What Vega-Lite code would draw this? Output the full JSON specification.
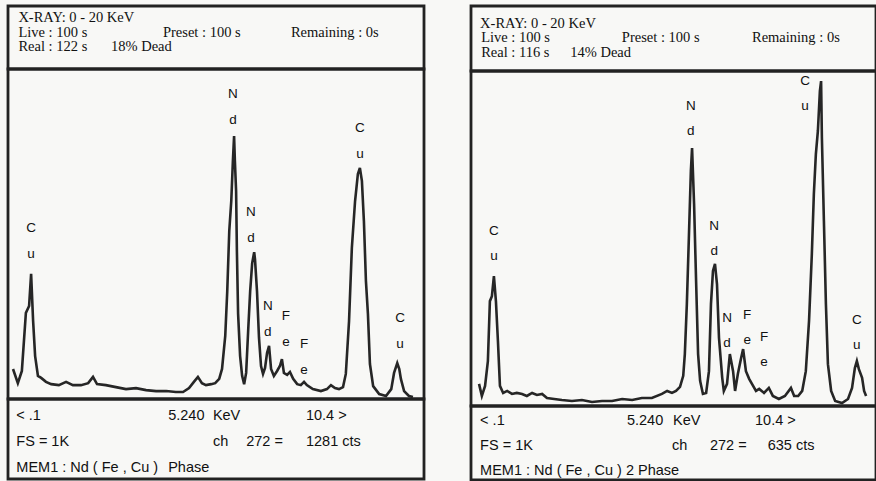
{
  "$schema": "https://vega.github.io/schema/vega-lite/v6.json",
  "background": "#f8f8f6",
  "padding": {"left": 6, "top": 4, "right": 0, "bottom": 0},
  "config": {"view": {"stroke": "#222222", "strokeWidth": 2.8, "fill": null}},
  "spacing": 43,
  "hconcat": [
    {
      "spacing": 0,
      "bounds": "flush",
      "vconcat": [
        {
          "width": 416, "height": 63,
          "data": {"name": "leftHead"},
          "mark": {"type": "text", "align": "left", "baseline": "middle", "font": "Liberation Serif", "fontSize": 14.5, "color": "#111111"},
          "encoding": {
            "x": {"field": "col", "type": "quantitative", "scale": {"domain": [0, 40], "nice": false, "zero": false}, "axis": null},
            "y": {"field": "line", "type": "quantitative", "scale": {"domain": [0.17, 4.52], "reverse": true, "nice": false, "zero": false}, "axis": null},
            "text": {"field": "text"}
          }
        },
        {
          "width": 416, "height": 330,
          "layer": [
            {
              "data": {"name": "leftSpec"},
              "mark": {"type": "line", "color": "#262626", "strokeWidth": 2.6, "clip": true},
              "encoding": {
                "x": {"field": "e", "type": "quantitative", "scale": {"domain": [0.075, 10.425], "nice": false, "zero": false}, "axis": null},
                "y": {"field": "c", "type": "quantitative", "scale": {"domain": [0, 1000], "nice": false}, "axis": null}
              }
            },
            {
              "data": {"name": "leftLab"},
              "mark": {"type": "text", "font": "Liberation Sans", "fontSize": 13.5, "lineBreak": "\n", "lineHeight": 26, "baseline": "middle", "align": "center", "dy": -13, "color": "#111111"},
              "encoding": {
                "x": {"field": "e", "type": "quantitative", "scale": {"domain": [0.075, 10.425], "nice": false, "zero": false}, "axis": null},
                "y": {"field": "c", "type": "quantitative", "scale": {"domain": [0, 1000], "nice": false}, "axis": null},
                "text": {"field": "t"}
              }
            }
          ]
        },
        {
          "width": 416, "height": 80,
          "data": {"name": "leftFoot"},
          "mark": {"type": "text", "align": "left", "baseline": "middle", "font": "Liberation Sans", "fontSize": 14.5, "color": "#111111"},
          "encoding": {
            "x": {"field": "col", "type": "quantitative", "scale": {"domain": [0, 40], "nice": false, "zero": false}, "axis": null},
            "y": {"field": "line", "type": "quantitative", "scale": {"domain": [0.346, 3.423], "reverse": true, "nice": false, "zero": false}, "axis": null},
            "text": {"field": "text"}
          }
        }
      ]
    },
    {
      "spacing": 0,
      "bounds": "flush",
      "vconcat": [
        {
          "width": 405, "height": 65,
          "data": {"name": "rightHead"},
          "mark": {"type": "text", "align": "left", "baseline": "middle", "font": "Liberation Serif", "fontSize": 14.5, "color": "#111111"},
          "encoding": {
            "x": {"field": "col", "type": "quantitative", "scale": {"domain": [0, 40], "nice": false, "zero": false}, "axis": null},
            "y": {"field": "line", "type": "quantitative", "scale": {"domain": [-0.241, 4.242], "reverse": true, "nice": false, "zero": false}, "axis": null},
            "text": {"field": "text"}
          }
        },
        {
          "width": 405, "height": 335,
          "layer": [
            {
              "data": {"name": "rightSpec"},
              "mark": {"type": "line", "color": "#262626", "strokeWidth": 2.6, "clip": true},
              "encoding": {
                "x": {"field": "e", "type": "quantitative", "scale": {"domain": [0.1, 10.176], "nice": false, "zero": false}, "axis": null},
                "y": {"field": "c", "type": "quantitative", "scale": {"domain": [0, 1000], "nice": false}, "axis": null}
              }
            },
            {
              "data": {"name": "rightLab"},
              "mark": {"type": "text", "font": "Liberation Sans", "fontSize": 13.5, "lineBreak": "\n", "lineHeight": 25, "baseline": "middle", "align": "center", "dy": -12.5, "color": "#111111"},
              "encoding": {
                "x": {"field": "e", "type": "quantitative", "scale": {"domain": [0.1, 10.176], "nice": false, "zero": false}, "axis": null},
                "y": {"field": "c", "type": "quantitative", "scale": {"domain": [0, 1000], "nice": false}, "axis": null},
                "text": {"field": "t"}
              }
            }
          ]
        },
        {
          "width": 405, "height": 74,
          "data": {"name": "rightFoot"},
          "mark": {"type": "text", "align": "left", "baseline": "middle", "font": "Liberation Sans", "fontSize": 14.5, "color": "#111111"},
          "encoding": {
            "x": {"field": "col", "type": "quantitative", "scale": {"domain": [0, 40], "nice": false, "zero": false}, "axis": null},
            "y": {"field": "line", "type": "quantitative", "scale": {"domain": [0.4, 3.36], "reverse": true, "nice": false, "zero": false}, "axis": null},
            "text": {"field": "text"}
          }
        }
      ]
    }
  ],
  "datasets": {
    "leftHead": [
      {"line": 1, "col": 1, "text": "X-RAY: 0 - 20 KeV"},
      {"line": 2, "col": 1, "text": "Live : 100 s"},
      {"line": 2, "col": 14.9, "text": "Preset : 100 s"},
      {"line": 2, "col": 27.2, "text": "Remaining : 0s"},
      {"line": 3, "col": 1, "text": "Real : 122 s"},
      {"line": 3, "col": 9.9, "text": "18% Dead"}
    ],
    "rightHead": [
      {"line": 1, "col": 0.9, "text": "X-RAY: 0 - 20 KeV"},
      {"line": 2, "col": 1, "text": "Live : 100 s"},
      {"line": 2, "col": 14.9, "text": "Preset : 100 s"},
      {"line": 2, "col": 27.75, "text": "Remaining : 0s"},
      {"line": 3, "col": 1, "text": "Real : 116 s"},
      {"line": 3, "col": 9.8, "text": "14% Dead"}
    ],
    "leftFoot": [
      {"line": 1, "col": 0.8, "text": "< .1"},
      {"line": 1, "col": 15.4, "text": "5.240"},
      {"line": 1, "col": 19.7, "text": "KeV"},
      {"line": 1, "col": 28.65, "text": "10.4 >"},
      {"line": 2, "col": 0.8, "text": "FS = 1K"},
      {"line": 2, "col": 19.7, "text": "ch"},
      {"line": 2, "col": 22.9, "text": "272 ="},
      {"line": 2, "col": 28.65, "text": "1281 cts"},
      {"line": 3, "col": 0.8, "text": "MEM1 : Nd ( Fe , Cu )"},
      {"line": 3, "col": 15.4, "text": "Phase"}
    ],
    "rightFoot": [
      {"line": 1, "col": 0.9, "text": "< .1"},
      {"line": 1, "col": 15.4, "text": "5.240"},
      {"line": 1, "col": 19.95, "text": "KeV"},
      {"line": 1, "col": 28.05, "text": "10.4 >"},
      {"line": 2, "col": 0.9, "text": "FS = 1K"},
      {"line": 2, "col": 19.85, "text": "ch"},
      {"line": 2, "col": 23.6, "text": "272 ="},
      {"line": 2, "col": 29.3, "text": "635 cts"},
      {"line": 3, "col": 0.9, "text": "MEM1 : Nd ( Fe , Cu ) 2 Phase"}
    ],
    "leftLab": [
      {"e": 0.65, "c": 479, "t": "C\nu"},
      {"e": 5.67, "c": 885, "t": "N\nd"},
      {"e": 6.12, "c": 527, "t": "N\nd"},
      {"e": 6.54, "c": 242, "t": "N\nd"},
      {"e": 6.99, "c": 212, "t": "F\ne"},
      {"e": 7.44, "c": 127, "t": "F\ne"},
      {"e": 8.83, "c": 782, "t": "C\nu"},
      {"e": 9.83, "c": 206, "t": "C\nu"}
    ],
    "rightLab": [
      {"e": 0.67, "c": 484, "t": "C\nu"},
      {"e": 5.57, "c": 857, "t": "N\nd"},
      {"e": 8.41, "c": 934, "t": "C\nu"},
      {"e": 6.15, "c": 501, "t": "N\nd"},
      {"e": 6.47, "c": 224, "t": "N\nd"},
      {"e": 6.97, "c": 233, "t": "F\ne"},
      {"e": 7.39, "c": 170, "t": "F\ne"},
      {"e": 9.70, "c": 218, "t": "C\nu"}
    ],
    "leftSpec": [
      {"e": 0.20, "c": 91}, {"e": 0.32, "c": 48}, {"e": 0.42, "c": 85}, {"e": 0.52, "c": 261}, {"e": 0.60, "c": 282},
      {"e": 0.65, "c": 379}, {"e": 0.70, "c": 236}, {"e": 0.75, "c": 130}, {"e": 0.82, "c": 70}, {"e": 0.90, "c": 64},
      {"e": 1.02, "c": 52}, {"e": 1.15, "c": 45}, {"e": 1.34, "c": 42}, {"e": 1.52, "c": 52}, {"e": 1.69, "c": 42},
      {"e": 1.89, "c": 42}, {"e": 2.07, "c": 48}, {"e": 2.19, "c": 67}, {"e": 2.29, "c": 45}, {"e": 2.51, "c": 42},
      {"e": 2.76, "c": 36}, {"e": 3.01, "c": 30}, {"e": 3.26, "c": 33}, {"e": 3.51, "c": 27}, {"e": 3.76, "c": 24},
      {"e": 4.01, "c": 24}, {"e": 4.25, "c": 21}, {"e": 4.43, "c": 21}, {"e": 4.58, "c": 33}, {"e": 4.70, "c": 52},
      {"e": 4.80, "c": 67}, {"e": 4.90, "c": 48}, {"e": 5.00, "c": 42}, {"e": 5.13, "c": 45}, {"e": 5.23, "c": 48},
      {"e": 5.33, "c": 61}, {"e": 5.40, "c": 91}, {"e": 5.48, "c": 191}, {"e": 5.53, "c": 327}, {"e": 5.58, "c": 509},
      {"e": 5.63, "c": 600}, {"e": 5.67, "c": 721}, {"e": 5.70, "c": 797}, {"e": 5.72, "c": 721}, {"e": 5.75, "c": 630},
      {"e": 5.77, "c": 448}, {"e": 5.80, "c": 258}, {"e": 5.85, "c": 130}, {"e": 5.90, "c": 70}, {"e": 5.95, "c": 45},
      {"e": 6.00, "c": 79}, {"e": 6.05, "c": 206}, {"e": 6.10, "c": 327}, {"e": 6.15, "c": 412}, {"e": 6.20, "c": 445},
      {"e": 6.22, "c": 424}, {"e": 6.27, "c": 327}, {"e": 6.32, "c": 185}, {"e": 6.37, "c": 100}, {"e": 6.42, "c": 76},
      {"e": 6.47, "c": 94}, {"e": 6.52, "c": 139}, {"e": 6.57, "c": 161}, {"e": 6.62, "c": 91}, {"e": 6.69, "c": 70},
      {"e": 6.77, "c": 85}, {"e": 6.84, "c": 100}, {"e": 6.89, "c": 121}, {"e": 6.94, "c": 79}, {"e": 7.02, "c": 73},
      {"e": 7.09, "c": 82}, {"e": 7.17, "c": 61}, {"e": 7.27, "c": 45}, {"e": 7.36, "c": 42}, {"e": 7.44, "c": 52},
      {"e": 7.51, "c": 42}, {"e": 7.66, "c": 30}, {"e": 7.86, "c": 24}, {"e": 8.01, "c": 30}, {"e": 8.11, "c": 42},
      {"e": 8.21, "c": 33}, {"e": 8.31, "c": 30}, {"e": 8.41, "c": 36}, {"e": 8.48, "c": 76}, {"e": 8.56, "c": 236},
      {"e": 8.63, "c": 458}, {"e": 8.71, "c": 600}, {"e": 8.78, "c": 682}, {"e": 8.83, "c": 700}, {"e": 8.88, "c": 661},
      {"e": 8.93, "c": 539}, {"e": 8.98, "c": 358}, {"e": 9.03, "c": 258}, {"e": 9.08, "c": 106}, {"e": 9.16, "c": 39},
      {"e": 9.31, "c": 15}, {"e": 9.48, "c": 9}, {"e": 9.61, "c": 30}, {"e": 9.68, "c": 79}, {"e": 9.76, "c": 109},
      {"e": 9.81, "c": 91}, {"e": 9.85, "c": 61}, {"e": 9.93, "c": 24}, {"e": 10.05, "c": 9}, {"e": 10.15, "c": 6}
    ],
    "rightSpec": [
      {"e": 0.30, "c": 66}, {"e": 0.37, "c": 30}, {"e": 0.45, "c": 60}, {"e": 0.52, "c": 134}, {"e": 0.57, "c": 313},
      {"e": 0.62, "c": 328}, {"e": 0.67, "c": 388}, {"e": 0.72, "c": 313}, {"e": 0.77, "c": 194}, {"e": 0.82, "c": 60},
      {"e": 0.90, "c": 39}, {"e": 1.00, "c": 45}, {"e": 1.12, "c": 36}, {"e": 1.24, "c": 39}, {"e": 1.37, "c": 36},
      {"e": 1.49, "c": 30}, {"e": 1.62, "c": 39}, {"e": 1.74, "c": 33}, {"e": 1.87, "c": 36}, {"e": 1.99, "c": 24},
      {"e": 2.17, "c": 21}, {"e": 2.36, "c": 18}, {"e": 2.61, "c": 15}, {"e": 2.86, "c": 18}, {"e": 3.11, "c": 12},
      {"e": 3.36, "c": 15}, {"e": 3.61, "c": 15}, {"e": 3.86, "c": 21}, {"e": 4.11, "c": 18}, {"e": 4.35, "c": 24},
      {"e": 4.60, "c": 24}, {"e": 4.85, "c": 36}, {"e": 4.98, "c": 45}, {"e": 5.10, "c": 39}, {"e": 5.20, "c": 45},
      {"e": 5.30, "c": 57}, {"e": 5.38, "c": 90}, {"e": 5.42, "c": 155}, {"e": 5.47, "c": 304}, {"e": 5.52, "c": 501},
      {"e": 5.57, "c": 701}, {"e": 5.60, "c": 770}, {"e": 5.65, "c": 603}, {"e": 5.70, "c": 373}, {"e": 5.75, "c": 155},
      {"e": 5.80, "c": 75}, {"e": 5.87, "c": 36}, {"e": 5.95, "c": 39}, {"e": 6.02, "c": 104}, {"e": 6.07, "c": 304},
      {"e": 6.12, "c": 403}, {"e": 6.17, "c": 424}, {"e": 6.22, "c": 364}, {"e": 6.27, "c": 203}, {"e": 6.35, "c": 84},
      {"e": 6.39, "c": 45}, {"e": 6.47, "c": 66}, {"e": 6.54, "c": 155}, {"e": 6.62, "c": 104}, {"e": 6.67, "c": 45},
      {"e": 6.74, "c": 96}, {"e": 6.82, "c": 143}, {"e": 6.87, "c": 170}, {"e": 6.94, "c": 104}, {"e": 7.02, "c": 81},
      {"e": 7.09, "c": 66}, {"e": 7.19, "c": 45}, {"e": 7.27, "c": 51}, {"e": 7.39, "c": 39}, {"e": 7.51, "c": 54},
      {"e": 7.61, "c": 30}, {"e": 7.76, "c": 21}, {"e": 7.91, "c": 30}, {"e": 8.06, "c": 54}, {"e": 8.14, "c": 30},
      {"e": 8.24, "c": 30}, {"e": 8.34, "c": 45}, {"e": 8.43, "c": 104}, {"e": 8.51, "c": 254}, {"e": 8.58, "c": 454},
      {"e": 8.63, "c": 633}, {"e": 8.68, "c": 752}, {"e": 8.73, "c": 821}, {"e": 8.78, "c": 940}, {"e": 8.81, "c": 970},
      {"e": 8.83, "c": 800}, {"e": 8.88, "c": 552}, {"e": 8.93, "c": 304}, {"e": 8.98, "c": 125}, {"e": 9.06, "c": 45},
      {"e": 9.16, "c": 15}, {"e": 9.33, "c": 9}, {"e": 9.48, "c": 21}, {"e": 9.58, "c": 54}, {"e": 9.65, "c": 113},
      {"e": 9.70, "c": 134}, {"e": 9.75, "c": 110}, {"e": 9.83, "c": 84}, {"e": 9.88, "c": 45}, {"e": 9.93, "c": 30}
    ]
  }
}
